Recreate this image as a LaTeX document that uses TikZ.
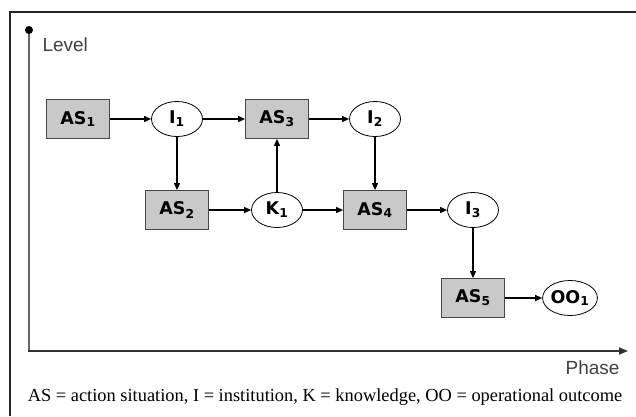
\documentclass[tikz,border=0pt]{standalone}
\usepackage{fontspec}
\setmainfont{Liberation Serif}
\setsansfont{Liberation Sans}
\newfontfamily\boxfont{DejaVu Sans}
\usetikzlibrary{shapes.geometric,arrows.meta}
\begin{document}
\begin{tikzpicture}[x=1pt,y=-1pt,
  asbox/.style={rectangle,draw=gray!55!black,fill=gray!42,line width=0.8pt,
    minimum width=63pt,minimum height=39pt,inner sep=0pt,font=\boxfont\bfseries\fontsize{17.5}{17.5}\selectfont},
  inst/.style={ellipse,draw,line width=0.8pt,fill=white,
    minimum width=51pt,minimum height=35pt,inner sep=0pt,font=\boxfont\bfseries\fontsize{17.5}{17.5}\selectfont},
  flow/.style={-{Triangle[length=7pt,width=6pt]},line width=1.1pt}]
\useasboundingbox (0,0) rectangle (636,416);
\draw[line width=1.3pt,black!85] (10,416)--(10,12)--(636,12);

% axes
\draw[line width=1.8pt,gray!80!black] (29,30)--(29,351);
\fill (29,30) circle (4pt);
\draw[line width=1.8pt,black!80,-{Triangle[length=9pt,width=7pt]}] (28,351)--(628,351);
\node[anchor=west,font=\sffamily\fontsize{19}{19}\selectfont,black!75] (level) at (39,45) {Level};
\node[anchor=east,font=\sffamily\fontsize{19}{19}\selectfont,black!75] (phase) at (623,368) {Phase};

\node[asbox] (as1) at (78,119) {AS\textsubscript{1}};
\node[inst]  (i1)  at (177,119) {I\textsubscript{1}};
\node[asbox] (as3) at (277,119) {AS\textsubscript{3}};
\node[inst]  (i2)  at (375,119) {I\textsubscript{2}};
\node[asbox] (as2) at (177,210) {AS\textsubscript{2}};
\node[inst]  (k1)  at (277,210) {K\textsubscript{1}};
\node[asbox] (as4) at (375,210) {AS\textsubscript{4}};
\node[inst]  (i3)  at (473,210) {I\textsubscript{3}};
\node[asbox] (as5) at (473,298) {AS\textsubscript{5}};
\node[inst]  (oo1) at (570,298) {OO\textsubscript{1}};

\draw[flow] (as1)--(i1);
\draw[flow] (i1)--(as3);
\draw[flow] (as3)--(i2);
\draw[flow] (i1)--(as2);
\draw[flow] (as2)--(k1);
\draw[flow] (k1)--(as3);
\draw[flow] (k1)--(as4);
\draw[flow] (i2)--(as4);
\draw[flow] (as4)--(i3);
\draw[flow] (i3)--(as5);
\draw[flow] (as5)--(oo1);

\node[font=\fontsize{18.4}{18.4}\selectfont] (key) at (325,397) {AS = action situation, I = institution, K = knowledge, OO = operational outcome};
\end{tikzpicture}
\end{document}
